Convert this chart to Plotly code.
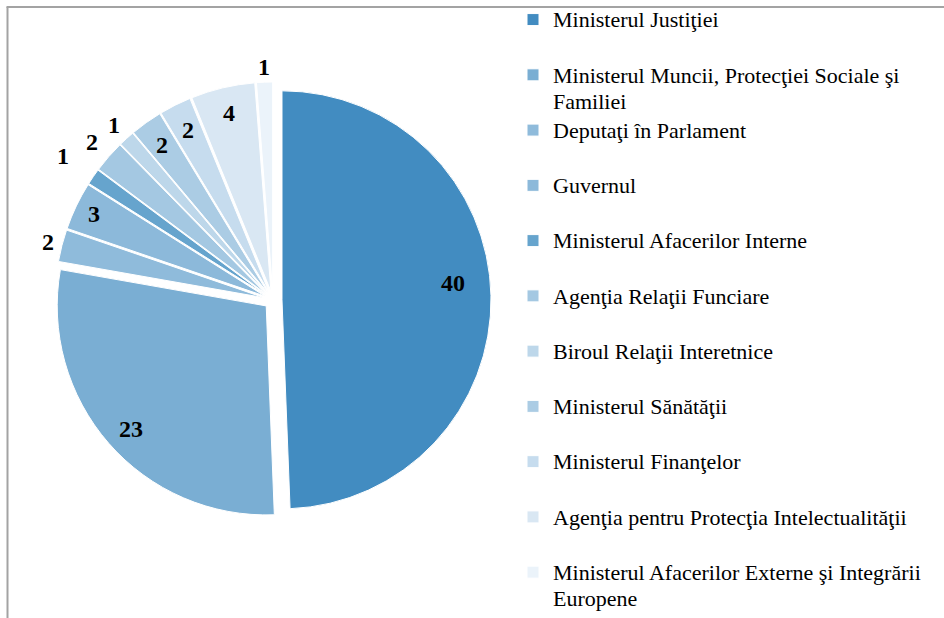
import math
import plotly.graph_objects as go

labels = [
    "Ministerul Justiţiei",
    "Ministerul Muncii, Protecţiei Sociale şi<br>Familiei",
    "Deputaţi în Parlament",
    "Guvernul",
    "Ministerul Afacerilor Interne",
    "Agenţia Relaţii Funciare",
    "Biroul Relaţii Interetnice",
    "Ministerul Sănătăţii",
    "Ministerul Finanţelor",
    "Agenţia pentru Protecţia Intelectualităţii",
    "Ministerul Afacerilor Externe şi Integrării<br>Europene",
]
values = [40, 23, 2, 3, 1, 2, 1, 2, 2, 4, 1]
colors = ["#428cc1", "#7aaed3", "#8fbbdb", "#8cb9da", "#66a4cd", "#a4c8e2",
          "#bdd7ea", "#abcce4", "#c6dcee", "#d9e7f3", "#ebf3fa"]
# value-label placement (style only): radius as fraction of pie radius, angle nudge in degrees
label_radius = [0.865, 0.92, 1.11, 0.95, 1.22, 1.15, 1.13, 0.91, 0.91, 0.92, 1.115]
label_nudge = [-4.3, -1.2, 0, 0, 0, 0, 0, 0, 0, 0, 0]

W, H = 944, 618
PULL = 0.043
dom_x = [55 / W, 491 / W]
dom_y = [100 / H, 536 / H]

# legend: line pitch driven by legend font size, glyphs drawn at 22px
LEG_TEXT_PX = 22
legend_labels = []
for l in labels:
    parts = l.split("<br>")
    if len(parts) == 1:
        parts.append("&nbsp;")
    legend_labels.append("<br>".join(
        f'<span style="font-size:{LEG_TEXT_PX}px">{p}</span>' for p in parts))

fig = go.Figure(go.Pie(
    labels=legend_labels,
    values=values,
    sort=False,
    direction="clockwise",
    rotation=0,
    pull=PULL,
    marker=dict(colors=colors, line=dict(color="white", width=1)),
    textinfo="none",
    domain=dict(x=dom_x, y=dom_y),
    hoverinfo="value",
))

# value labels placed along each slice's mid-angle (computed from the data)
box_w = (dom_x[1] - dom_x[0]) * W
box_h = (dom_y[1] - dom_y[0]) * H
r = min(box_w, box_h) / (2 + 2 * PULL)
cx = (dom_x[0] + dom_x[1]) / 2 * W
cy = (1 - (dom_y[0] + dom_y[1]) / 2) * H
total = sum(values)
cum = 0
annotations = []
for v, f, nd in zip(values, label_radius, label_nudge):
    theta = 2 * math.pi * (cum + v / 2) / total + math.radians(nd)
    cum += v
    x = cx + f * r * math.sin(theta)
    y = cy - f * r * math.cos(theta)
    annotations.append(dict(
        x=x / W, y=1 - y / H, xref="paper", yref="paper",
        text=str(v), showarrow=False, xanchor="center", yanchor="middle",
        font=dict(family="Liberation Serif", size=24, color="black", weight="bold"),
    ))

fig.update_layout(
    width=W, height=H,
    margin=dict(l=0, r=0, t=0, b=0),
    paper_bgcolor="white",
    plot_bgcolor="white",
    showlegend=True,
    legend=dict(
        x=513 / W, xanchor="left",
        y=1 - 7 / H, yanchor="top",
        font=dict(family="Liberation Serif", size=20.1, color="black"),
        valign="top",
        bgcolor="rgba(0,0,0,0)",
        itemclick=False,
        itemdoubleclick=False,
        maxheight=800,
    ),
    annotations=annotations,
    shapes=[
        dict(type="line", xref="paper", yref="paper",
             x0=7.5 / W, x1=7.5 / W, y0=0, y1=1 - 7 / H,
             line=dict(color="#a3a3a3", width=2)),
        dict(type="line", xref="paper", yref="paper",
             x0=6.5 / W, x1=1, y0=1 - 7 / H, y1=1 - 7 / H,
             line=dict(color="#a3a3a3", width=2)),
    ],
)

fig.write_html(
    "out.html",
    config={"displayModeBar": False},
    post_script="document.body.style.margin='0px';document.body.style.overflow='hidden';",
)
